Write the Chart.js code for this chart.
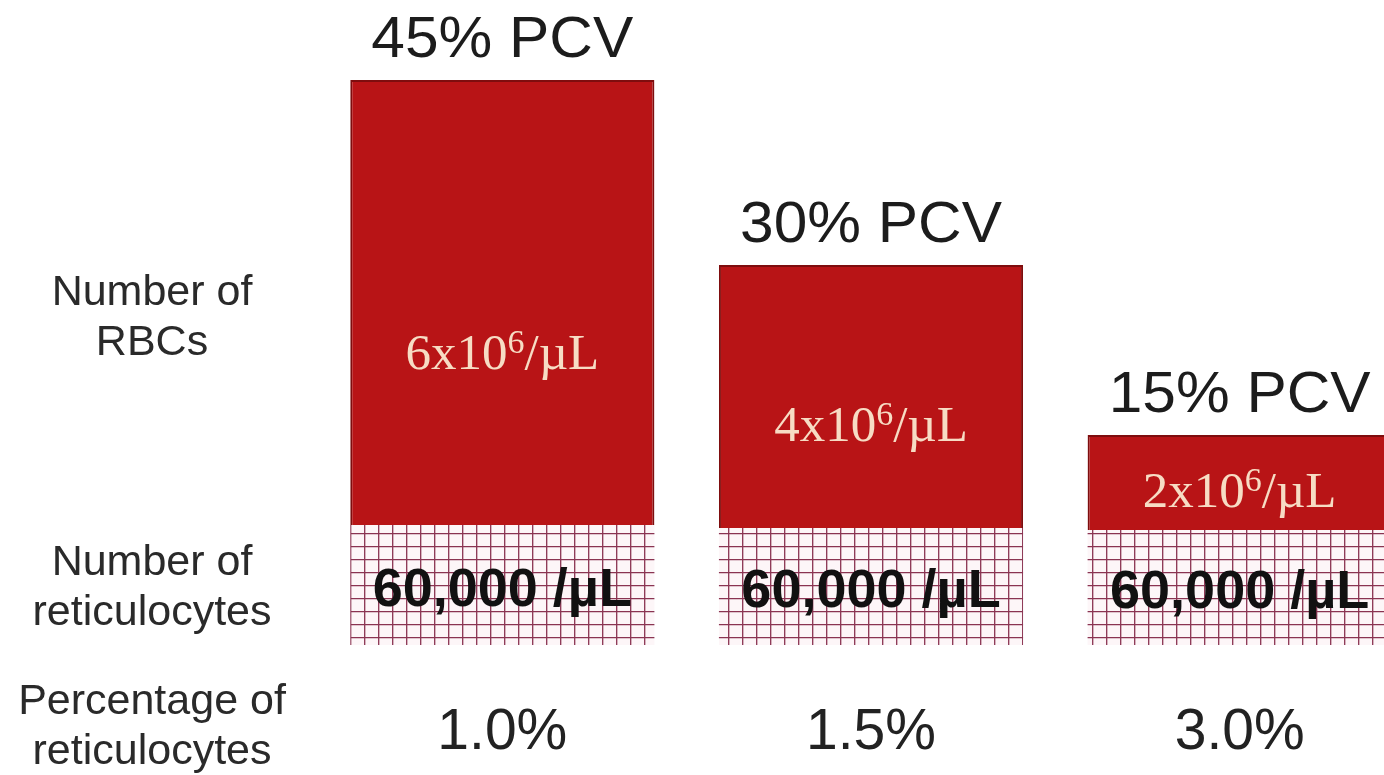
<!DOCTYPE html>
<html>
<head>
<meta charset="utf-8">
<script src="https://cdn.jsdelivr.net/npm/chart.js@4.4.1/dist/chart.umd.min.js"></script>
<style>
  html, body { margin: 0; padding: 0; background: #fff; overflow: hidden; }
  #wrap { width: 1424px; height: 775px; }
</style>
</head>
<body>
<div id="wrap"><canvas id="myChart" width="1424" height="775"></canvas></div>
<script>
// reticulocyte percentage under each bar (x axis)
const retPercent = ['1.0%', '1.5%', '3.0%'];
const pcvLabels = ['45% PCV', '30% PCV', '15% PCV'];
const rbcCount = [6, 4, 2];            // x10^6 / uL
const reticCount = ['60,000', '60,000', '60,000'];
// block heights (arbitrary units)
const rbcBlock = [4.45, 2.63, 0.95];
const reticBlock = [1.2, 1.17, 1.15];
const rowLabels = [
    ['Number of', 'RBCs'],
    ['Number of', 'reticulocytes'],
    ['Percentage of', 'reticulocytes']
];

// little grid pattern for the reticulocyte part
function gridPattern() {
    const c = document.createElement('canvas');
    c.width = 14;
    c.height = 13;
    const g = c.getContext('2d');
    g.fillStyle = '#fdf6f8';
    g.fillRect(0, 0, 14, 13);
    g.strokeStyle = '#8a3452';
    g.lineWidth = 1.3;
    g.beginPath();
    g.moveTo(0, 0.7); g.lineTo(14, 0.7);
    g.moveTo(0.7, 0); g.lineTo(0.7, 13);
    g.stroke();
    return g.createPattern(c, 'repeat');
}

const labelPlugin = {
    id: 'labels',
    afterDatasetsDraw(chart) {
        const ctx = chart.ctx;
        const retMeta = chart.getDatasetMeta(0);
        const rbcMeta = chart.getDatasetMeta(1);
        ctx.save();
        ctx.textAlign = 'center';
        rbcMeta.data.forEach((bar, i) => {
            const p = bar.getProps(['x', 'y', 'base'], true);
            // PCV above bar (text is a bit wide in the original)
            ctx.save();
            ctx.fillStyle = '#1c1c1c';
            ctx.font = '57px "Liberation Sans", Arial, sans-serif';
            ctx.textBaseline = 'alphabetic';
            ctx.translate(p.x, p.y - 23);
            ctx.scale(1.06, 1);
            ctx.fillText(pcvLabels[i], 0, 0);
            ctx.restore();

            // RBC count inside red part
            const ly = p.y + (p.base - p.y) * 0.62;
            ctx.fillStyle = '#f7dcc4';
            ctx.textBaseline = 'middle';
            const big = '51px "Liberation Serif", "Times New Roman", serif';
            const small = '34px "Liberation Serif", "Times New Roman", serif';
            const a = rbcCount[i] + 'x10', s = '6', t = '/\u00b5L';
            ctx.font = big;
            const wa = ctx.measureText(a).width, wt = ctx.measureText(t).width;
            ctx.font = small;
            const ws = ctx.measureText(s).width;
            let x0 = p.x - (wa + ws + wt) / 2;
            ctx.textAlign = 'left';
            ctx.font = big;
            ctx.fillText(a, x0, ly);
            ctx.font = small;
            ctx.fillText(s, x0 + wa, ly - 12);
            ctx.font = big;
            ctx.fillText(t, x0 + wa + ws, ly);
            ctx.textAlign = 'center';

            // reticulocyte count in grid part
            const r = retMeta.data[i].getProps(['x', 'y', 'base'], true);
            ctx.fillStyle = '#111';
            ctx.font = 'bold 54px "Liberation Sans", Arial, sans-serif';
            ctx.fillText(reticCount[i] + ' /\u00b5L', r.x, (r.y + r.base) / 2 + 6);
        });

        // row labels on the left
        ctx.fillStyle = '#2a2a2a';
        ctx.font = '43px "Liberation Sans", Arial, sans-serif';
        ctx.textBaseline = 'middle';
        const rows = [318, 588, 727];
        rowLabels.forEach((lines, k) => {
            ctx.fillText(lines[0], 152, rows[k] - 25);
            ctx.fillText(lines[1], 152, rows[k] + 25);
        });
        ctx.restore();
    }
};

const ctx = document.getElementById('myChart').getContext('2d');
const myChart = new Chart(ctx, {
    type: 'bar',
    data: {
        labels: retPercent,
        datasets: [{
            label: 'Reticulocytes',
            data: reticBlock,
            backgroundColor: gridPattern(),
            borderWidth: 0,
            barPercentage: 0.825,
            categoryPercentage: 1
        }, {
            label: 'RBCs',
            data: rbcBlock,
            backgroundColor: '#b81416',
            borderColor: '#7e0d0e',
            borderWidth: 2,
            barPercentage: 0.825,
            categoryPercentage: 1
        }]
    },
    options: {
        responsive: false,
        animation: false,
        layout: { padding: { left: 318, right: 0, top: 80, bottom: 12 } },
        plugins: {
            legend: { display: false },
            tooltip: { enabled: false }
        },
        scales: {
            x: {
                stacked: true,
                grid: { display: false, drawTicks: false },
                border: { display: false },
                afterFit(scale) {
                    scale.height = 118;
                },
                ticks: {
                    color: '#222',
                    padding: 54,
                    font: { size: 57, family: '"Liberation Sans", Arial, sans-serif' }
                }
            },
            y: {
                stacked: true,
                display: false,
                min: 0,
                max: 5.65
            }
        }
    },
    plugins: [labelPlugin]
});
</script>
</body>
</html>
